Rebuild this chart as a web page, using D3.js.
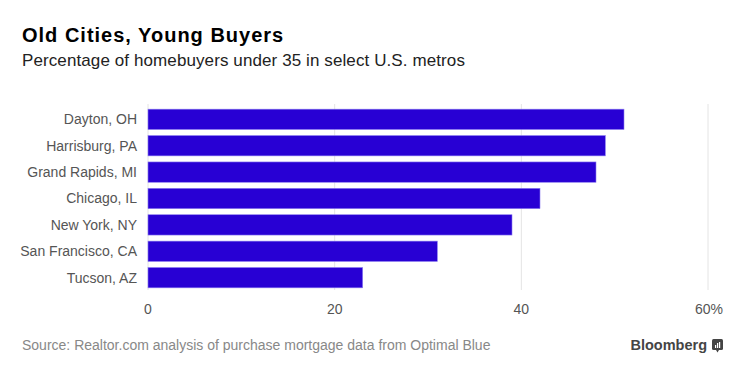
<!DOCTYPE html>
<html>
<head>
<meta charset="utf-8">
<script src="https://cdn.jsdelivr.net/npm/d3@7"></script>
<style>
  body { margin: 0; background: #fff; }
  svg { font-family: "Liberation Sans", Arial, sans-serif; }
</style>
</head>
<body>
<div id="chart"></div>
<script>
// chart data
const metros = ['Dayton, OH', 'Harrisburg, PA', 'Grand Rapids, MI', 'Chicago, IL', 'New York, NY', 'San Francisco, CA', 'Tucson, AZ'];
const shareUnder35 = [51, 49, 48, 42, 39, 31, 23];
const tickValues = [0, 20, 40, 60];
const tickLabels = ['0', '20', '40', '60%'];

const width = 750, height = 375;
const margin = { top: 104, right: 42, bottom: 85, left: 148 };

const svg = d3.select('#chart').append('svg')
    .attr('width', width)
    .attr('height', height);

// Title block
svg.append('text')
    .attr('x', 22).attr('y', 42)
    .style('font-size', '20px').style('font-weight', 'bold').style('fill', '#000')
    .style('letter-spacing', '1px')
    .text('Old Cities, Young Buyers');

svg.append('text')
    .attr('x', 22).attr('y', 66)
    .style('font-size', '17px').style('fill', '#222')
    .style('letter-spacing', '0.1px')
    .text('Percentage of homebuyers under 35 in select U.S. metros');

const x = d3.scaleLinear()
    .domain([0, 60])
    .range([margin.left, width - margin.right]);

const y = d3.scaleBand()
    .domain(metros)
    .range([margin.top + 2, height - margin.bottom + 1])
    .paddingInner(0.23)
    .paddingOuter(0.12);

// Gridlines
svg.append('g')
    .selectAll('line')
    .data(tickValues)
    .join('line')
    .attr('x1', d => x(d)).attr('x2', d => x(d))
    .attr('y1', margin.top).attr('y2', height - margin.bottom)
    .attr('stroke', '#e4e4e4')
    .attr('stroke-width', 1);

// Bars
svg.append('g')
    .selectAll('rect')
    .data(metros)
    .join('rect')
    .attr('x', x(0))
    .attr('y', d => y(d))
    .attr('width', (d, i) => x(shareUnder35[i]) - x(0))
    .attr('height', y.bandwidth())
    .attr('fill', '#2800d4')
    .attr('stroke', '#8c7cf0')
    .attr('stroke-width', 0.6);

// Category labels
svg.append('g')
    .selectAll('text')
    .data(metros)
    .join('text')
    .attr('x', x(0) - 11)
    .attr('y', d => y(d) + y.bandwidth() / 2)
    .attr('dy', '0.35em')
    .attr('text-anchor', 'end')
    .style('font-size', '14px')
    .style('fill', '#555')
    .text(d => d);

// X axis tick labels
svg.append('g')
    .selectAll('text')
    .data(tickValues)
    .join('text')
    .attr('x', d => x(d))
    .attr('y', 314)
    .attr('text-anchor', (d, i) => i === tickValues.length - 1 ? 'end' : 'middle')
    .attr('dx', (d, i) => i === tickValues.length - 1 ? 15 : 0)
    .style('font-size', '14px')
    .style('fill', '#555')
    .text((d, i) => tickLabels[i]);

// Footer
svg.append('text')
    .attr('x', 22).attr('y', 350)
    .style('font-size', '14px').style('fill', '#888')
    .text('Source: Realtor.com analysis of purchase mortgage data from Optimal Blue');

svg.append('text')
    .attr('x', 707).attr('y', 350)
    .attr('text-anchor', 'end')
    .style('font-size', '14.5px').style('font-weight', 'bold').style('fill', '#444')
    .text('Bloomberg');

// small logo mark
const logo = svg.append('g').attr('transform', 'translate(712,339)');
logo.append('rect').attr('width', 11).attr('height', 11).attr('rx', 1.5).attr('fill', '#444');
logo.append('path').attr('d', 'M4,11 L5.5,13.5 L7,11 Z').attr('fill', '#444');
[[3, 6], [5, 4], [7, 3]].forEach(([bx, by]) => {
    logo.append('rect').attr('x', bx).attr('y', by).attr('width', 1.2).attr('height', 9 - by).attr('fill', '#fff');
});
</script>
</body>
</html>
